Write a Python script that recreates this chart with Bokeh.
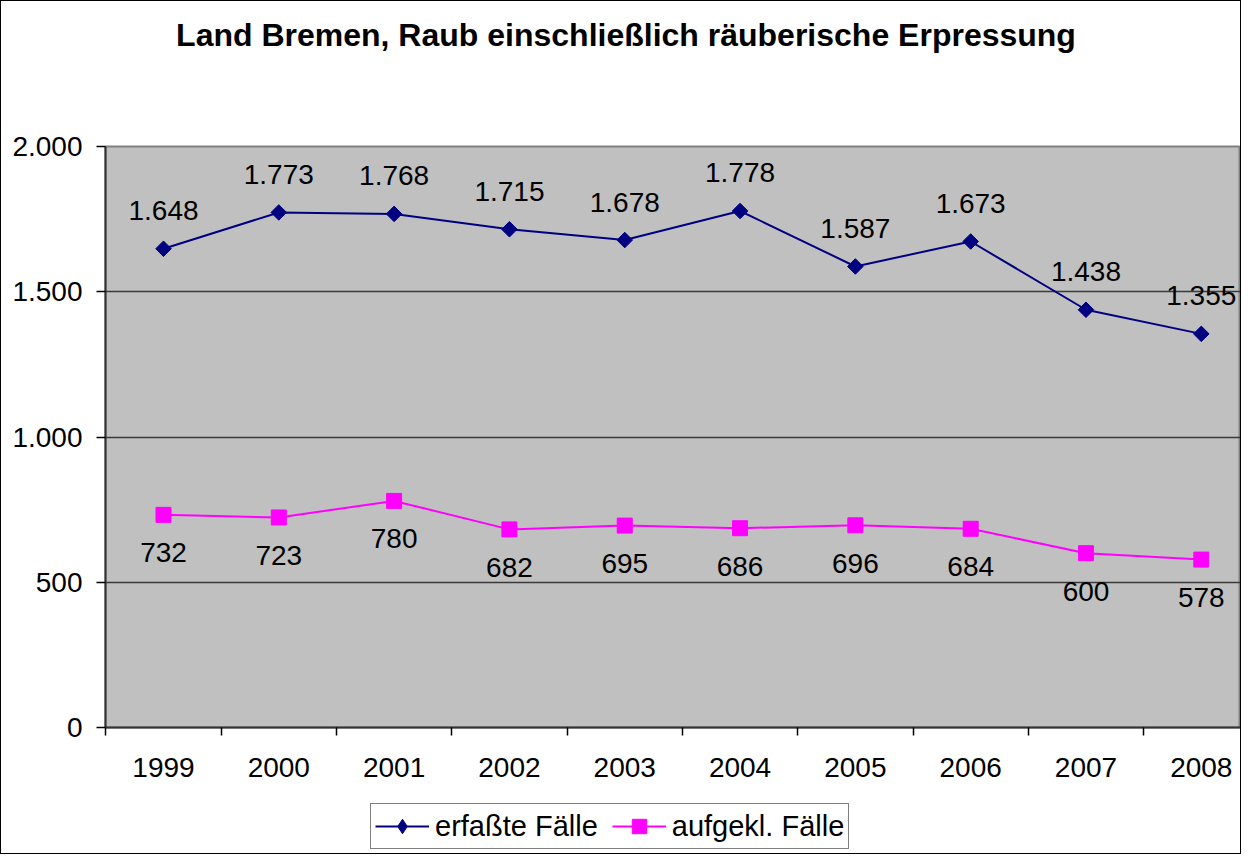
import math
from bokeh.plotting import figure
from bokeh.layouts import column
from bokeh.models import (Range1d, FixedTicker, LabelSet, ColumnDataSource, Label,
                          Legend, LegendItem)
from bokeh.core.properties import value
from bokeh.embed import file_html
from bokeh.resources import INLINE

years = ["1999", "2000", "2001", "2002", "2003", "2004", "2005", "2006", "2007", "2008"]
erfasst = [1648, 1773, 1768, 1715, 1678, 1778, 1587, 1673, 1438, 1355]
aufgeklaert = [732, 723, 780, 682, 695, 686, 696, 684, 600, 578]
y_ticks = [0, 500, 1000, 1500, 2000]
y_tick_labels = ["0", "500", "1.000", "1.500", "2.000"]
title_text = "Land Bremen, Raub einschließlich räuberische Erpressung"
series_names = ["erfaßte Fälle", "aufgekl. Fälle"]

FONT = "Liberation Sans"
NAVY = "#000080"
MAGENTA = "#FF00FF"
W = 1239
LEFT = 104  # frame left edge (column aligns all frames)


def de_fmt(v):
    return f"{v:,}".replace(",", ".")


def blank_figure(height):
    f = figure(width=W, height=height, output_backend="svg", toolbar_location=None,
               x_range=Range1d(0, 1), y_range=Range1d(0, 1),
               min_border_left=LEFT, min_border_right=0, min_border_top=0, min_border_bottom=0)
    f.axis.visible = False
    f.grid.visible = False
    f.outline_line_color = None
    f.background_fill_color = "white"
    f.border_fill_color = "white"
    return f


# ---- title strip ----
pt = blank_figure(100)
pt.add_layout(Label(x=624.5 - LEFT, y=67, x_units="screen", y_units="screen", text=title_text,
                    text_align="center", text_baseline="middle", text_font=FONT,
                    text_font_size="32px", text_font_style="bold", text_color="black"))

# ---- main chart ----
xs = list(range(len(years)))
src1 = ColumnDataSource(dict(x=xs, y=erfasst, lab=[de_fmt(v) for v in erfasst]))
src2 = ColumnDataSource(dict(x=xs, y=aufgeklaert, lab=[de_fmt(v) for v in aufgeklaert]))

p = figure(width=W, height=690, output_backend="svg", toolbar_location=None,
           x_range=Range1d(-0.503, 9.34), y_range=Range1d(0, 2000),
           min_border_left=LEFT, min_border_right=0, min_border_top=45, min_border_bottom=64)
p.background_fill_color = "#C0C0C0"
p.border_fill_color = "white"
p.outline_line_color = "#808080"
p.outline_line_width = 2

xax = p.xaxis[0]
xax.ticker = FixedTicker(ticks=xs, minor_ticks=[i - 0.5 for i in range(len(years) + 1)])
xax.major_label_overrides = {i: y for i, y in enumerate(years)}
xax.major_tick_out = 0
xax.major_tick_in = 0
xax.minor_tick_out = 8
xax.minor_tick_in = 0
xax.minor_tick_line_color = "black"
xax.minor_tick_line_width = 1.5
xax.axis_line_color = "#333333"
xax.axis_line_width = 2
xax.major_label_text_font = FONT
xax.major_label_text_font_size = "28px"
xax.major_label_text_color = "black"
xax.major_label_standoff = 22

yax = p.yaxis[0]
yax.ticker = FixedTicker(ticks=y_ticks, minor_ticks=[])
yax.major_label_overrides = {t: l for t, l in zip(y_ticks, y_tick_labels)}
yax.major_tick_out = 9
yax.major_tick_in = 0
yax.major_tick_line_color = "black"
yax.major_tick_line_width = 1.5
yax.axis_line_color = "#333333"
yax.axis_line_width = 2
yax.major_label_text_font = FONT
yax.major_label_text_font_size = "28px"
yax.major_label_text_color = "black"
yax.major_label_standoff = 14

p.xgrid.visible = False
p.ygrid.ticker = FixedTicker(ticks=[500, 1000, 1500])
p.ygrid.grid_line_color = "#3a3a3a"
p.ygrid.grid_line_width = 1.5

p.line("x", "y", source=src1, line_color=NAVY, line_width=2)
p.scatter("x", "y", source=src1, marker="square", angle=math.pi / 4, size=11,
          fill_color=NAVY, line_color=NAVY)
p.line("x", "y", source=src2, line_color=MAGENTA, line_width=2)
p.scatter("x", "y", source=src2, marker="square", size=15,
          fill_color=MAGENTA, line_color=MAGENTA)

p.add_layout(LabelSet(x="x", y="y", text="lab", source=src1, y_offset=38,
                      text_align="center", text_baseline="middle",
                      text_font=value(FONT), text_font_size="28px", text_color="black"))
p.add_layout(LabelSet(x="x", y="y", text="lab", source=src2, y_offset=-38,
                      text_align="center", text_baseline="middle",
                      text_font=value(FONT), text_font_size="28px", text_color="black"))

# ---- legend strip ----
pl = blank_figure(62)
nan = float("nan")
dummy = ColumnDataSource(dict(x=[nan], y=[nan]))
r1 = pl.line("x", "y", source=dummy, line_color=NAVY, line_width=2)
s1 = pl.scatter("x", "y", source=dummy, marker="diamond",
                fill_color=NAVY, line_color=NAVY)
r2 = pl.line("x", "y", source=dummy, line_color=MAGENTA, line_width=2)
s2 = pl.scatter("x", "y", source=dummy, marker="square",
                fill_color=MAGENTA, line_color=MAGENTA)
legend = Legend(items=[LegendItem(label=series_names[0], renderers=[r1, s1]),
                       LegendItem(label=series_names[1], renderers=[r2, s2])],
                location=(369 - LEFT, 4), orientation="horizontal",
                label_text_font=FONT, label_text_font_size="29px", label_text_color="black",
                glyph_width=54, glyph_height=36, label_standoff=6, spacing=14,
                padding=4, margin=0, border_line_color="black", border_line_width=1,
                background_fill_color="white", background_fill_alpha=1)
pl.add_layout(legend, "center")

layout = column(pt, p, pl, spacing=0)
layout.styles = {"border": "1px solid black"}

open("out.html", "w").write(file_html(layout, INLINE))
